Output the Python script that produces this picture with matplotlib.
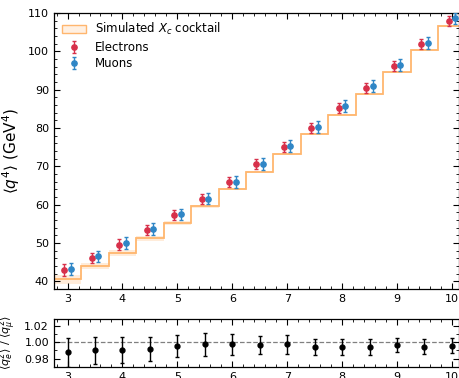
#!/usr/bin/env python3

import numpy as np
import matplotlib
matplotlib.use('Agg')
from matplotlib import pyplot as plt
from matplotlib.ticker import MultipleLocator, AutoMinorLocator
from matplotlib.patches import Patch

# bin centres (GeV^2 threshold)
q2_min = [3.0, 3.5, 4.0, 4.5, 5.0, 5.5, 6.0, 6.5, 7.0, 7.5, 8.0, 8.5, 9.0, 9.5, 10.0]

electrons = [42.9, 46.1, 49.6, 53.3, 57.2, 61.5, 65.8, 70.5, 75.1, 79.9, 85.2, 90.5, 96.1, 101.8, 108.0]
electrons_err = [1.5, 1.4, 1.4, 1.3, 1.3, 1.3, 1.3, 1.3, 1.3, 1.3, 1.3, 1.3, 1.3, 1.3, 1.3]
muons = [43.3, 46.5, 50.0, 53.7, 57.5, 61.6, 65.9, 70.6, 75.3, 80.3, 85.7, 91.0, 96.5, 102.2, 108.6]
muons_err = [1.6, 1.5, 1.5, 1.5, 1.5, 1.5, 1.5, 1.5, 1.5, 1.5, 1.5, 1.5, 1.5, 1.5, 1.5]

cocktail = [40.5, 43.9, 47.4, 51.2, 55.3, 59.6, 64.0, 68.5, 73.3, 78.4, 83.5, 88.8, 94.5, 100.3, 106.6]
cocktail_err = [1.1, 0.8, 0.7, 0.6, 0.5, 0.4, 0.3, 0.3, 0.3, 0.25, 0.25, 0.2, 0.2, 0.2, 0.2]

ratio = [0.9877, 0.990, 0.991, 0.9918, 0.9955, 0.9975, 0.9975, 0.9963, 0.9975, 0.9939, 0.9946, 0.9943, 0.9967, 0.9946, 0.9958]
ratio_err = [0.018, 0.017, 0.016, 0.015, 0.014, 0.014, 0.013, 0.011, 0.012, 0.010, 0.010, 0.010, 0.009, 0.009, 0.009]

c_e = '#d7304a'
c_mu = '#2f86c6'
c_sim = '#ffb66e'

plt.rcParams['font.family'] = 'DejaVu Sans'

fig = plt.figure(figsize=(4.6, 3.78), dpi=100)
ax = fig.add_axes([0.117, 0.2354, 0.881, 0.7302])
rax = fig.add_axes([0.117, 0.029, 0.881, 0.127])

x = np.array(q2_min)
half = 0.25
edges = np.append(x - half, x[-1] + half)
cv = np.array(cocktail)
ce = np.array(cocktail_err)

# cocktail steps with hatched band
ax.stairs(cv, edges, color=c_sim, lw=1.3, zorder=2)
ax.stairs(cv + ce, edges, baseline=cv - ce, fill=True, facecolor=c_sim, alpha=0.25,
          edgecolor='none', hatch='////', zorder=1)

ax.errorbar(x - 0.06, electrons, yerr=electrons_err, fmt='o', ms=3.8, color=c_e,
            ecolor=c_e, elinewidth=1.0, capsize=1.5, label='Electrons', zorder=3)
ax.errorbar(x + 0.06, muons, yerr=muons_err, fmt='o', ms=3.8, color=c_mu,
            ecolor=c_mu, elinewidth=1.0, capsize=1.5, label='Muons', zorder=3)

handles, labels = ax.get_legend_handles_labels()
sim_patch = Patch(facecolor=c_sim, alpha=0.3, edgecolor=c_sim, lw=1.0)
sim_patch = Patch(facecolor=(1.0, 0.71, 0.43, 0.2), edgecolor=c_sim, lw=1.0)
ax.legend([sim_patch] + handles, [r'Simulated $X_c$ cocktail'] + labels, loc='upper left',
          frameon=False, fontsize=8.5, handlelength=2.0, borderaxespad=0.3, labelspacing=0.3)

ax.set_xlim(2.75, 10.13)
ax.set_ylim(38, 110)
ax.set_ylabel(r'$\langle q^4 \rangle$ (GeV$^4$)', fontsize=11)
ax.xaxis.set_major_locator(MultipleLocator(1))
ax.xaxis.set_minor_locator(MultipleLocator(0.2))
ax.yaxis.set_major_locator(MultipleLocator(10))
ax.yaxis.set_minor_locator(MultipleLocator(2))

rax.errorbar(x, ratio, yerr=ratio_err, fmt='o', ms=3.5, color='black', elinewidth=1.0,
             capsize=1.5, zorder=3)
rax.axhline(1.0, color='gray', ls='--', lw=0.9, zorder=1)
rax.set_xlim(2.75, 10.13)
rax.set_ylim(0.9697, 1.0286)
rax.set_ylabel(r'$\langle q_e^2 \rangle$ / $\langle q_\mu^2 \rangle$', fontsize=8)
rax.xaxis.set_major_locator(MultipleLocator(1))
rax.xaxis.set_minor_locator(MultipleLocator(0.2))
rax.yaxis.set_major_locator(MultipleLocator(0.02))
rax.yaxis.set_minor_locator(AutoMinorLocator(2))

for a in (ax, rax):
    a.tick_params(which='both', direction='in', top=True, right=True, labelsize=8)
    a.tick_params(which='major', length=4)
    a.tick_params(which='minor', length=2)
    for s in a.spines.values():
        s.set_linewidth(0.9)

fig.savefig('out.png', dpi=100)
